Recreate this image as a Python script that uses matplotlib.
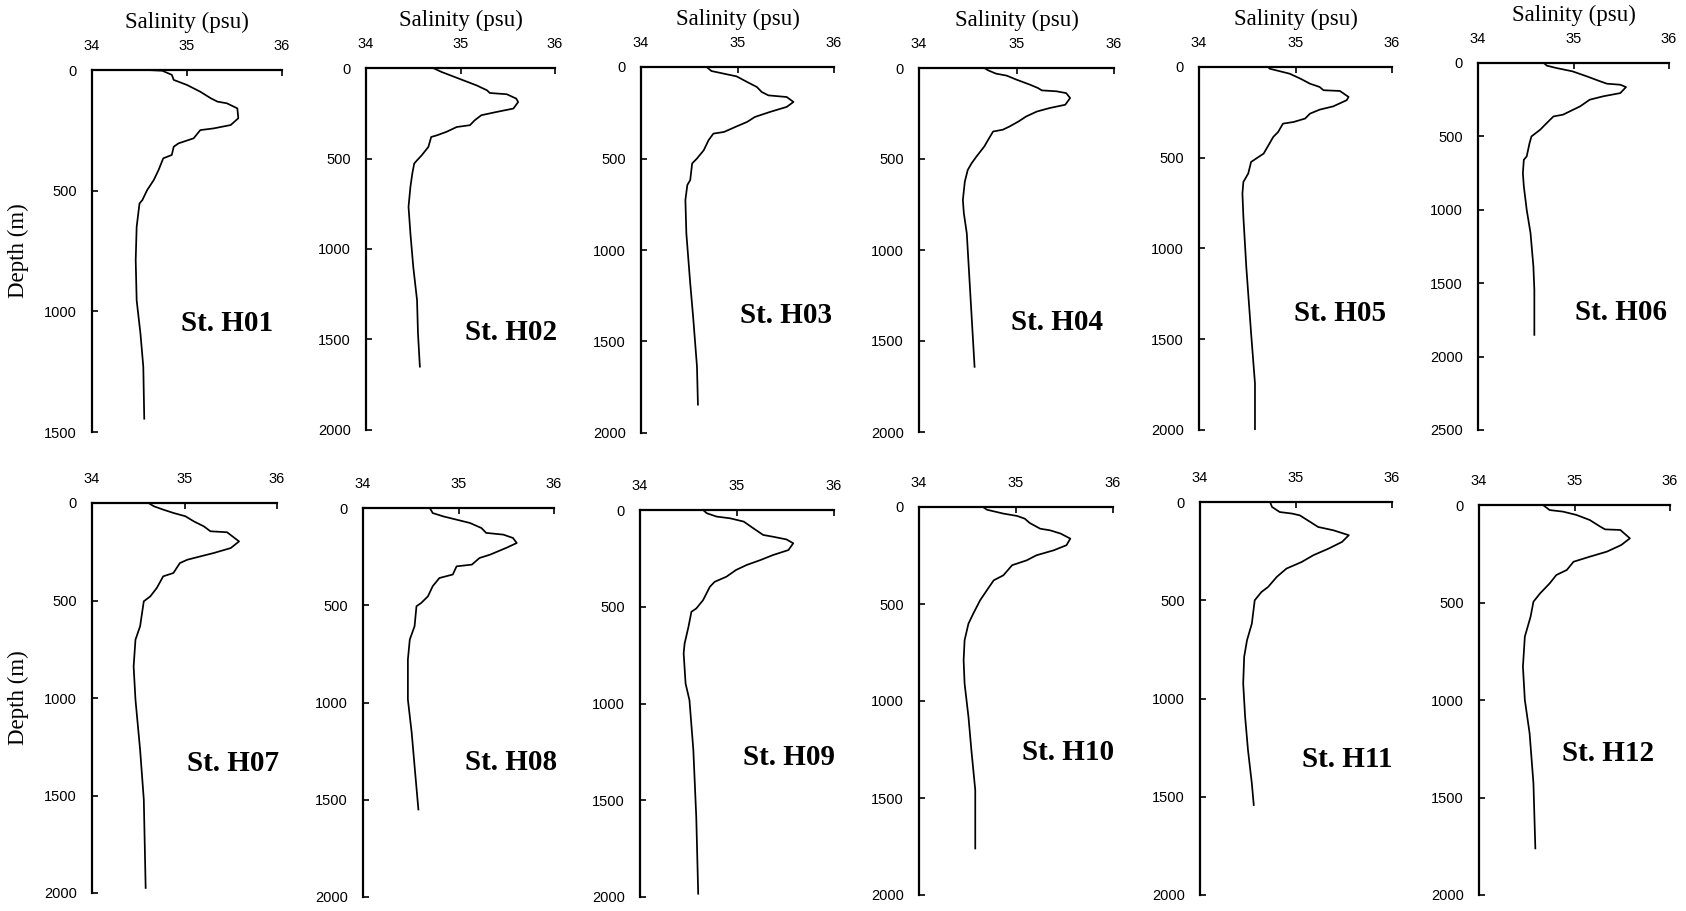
import matplotlib.pyplot as plt

# salinity (psu) / depth (m) profiles
h01_sal = [34.58, 34.74, 34.84, 34.86, 35.00, 35.14, 35.25, 35.32, 35.42, 35.53, 35.54, 35.46, 35.28, 35.14,
           35.07, 34.91, 34.86, 34.84, 34.75, 34.70, 34.65, 34.58, 34.53, 34.50, 34.47, 34.46, 34.47, 34.51,
           34.54, 34.55]
h01_depth = [0, 3, 20, 41, 62, 90, 117, 131, 138, 159, 200, 228, 242, 249, 283, 304, 318, 352, 366, 415, 456,
             498, 539, 553, 650, 788, 954, 1092, 1230, 1445]

h02_sal = [34.71, 34.80, 34.92, 35.03, 35.17, 35.28, 35.31, 35.49, 35.59, 35.61, 35.56, 35.38, 35.22, 35.15,
           35.10, 34.96, 34.85, 34.75, 34.69, 34.66, 34.59, 34.54, 34.51, 34.49, 34.47, 34.45, 34.47, 34.50,
           34.54, 34.55, 34.57]
h02_depth = [0, 22, 46, 68, 96, 123, 138, 145, 169, 188, 224, 243, 261, 289, 316, 326, 353, 372, 381, 436, 482,
             510, 528, 583, 657, 767, 914, 1098, 1282, 1466, 1650]

h03_sal = [34.68, 34.73, 34.89, 34.99, 35.10, 35.20, 35.25, 35.32, 35.51, 35.58, 35.51, 35.34, 35.18, 35.10,
           34.98, 34.86, 34.75, 34.70, 34.65, 34.58, 34.53, 34.51, 34.48, 34.46, 34.47, 34.51, 34.54, 34.58,
           34.59]
h03_depth = [0, 22, 40, 51, 82, 109, 136, 155, 164, 191, 218, 245, 273, 300, 327, 355, 364, 400, 455, 500, 527,
             618, 645, 727, 909, 1182, 1364, 1636, 1845]

h04_sal = [34.67, 34.71, 34.79, 34.90, 35.00, 35.14, 35.22, 35.26, 35.41, 35.51, 35.55, 35.50, 35.34, 35.21,
           35.10, 35.02, 34.93, 34.86, 34.76, 34.71, 34.67, 34.59, 34.54, 34.50, 34.47, 34.45, 34.46, 34.49,
           34.52, 34.55, 34.57]
h04_depth = [0, 13, 31, 42, 64, 92, 110, 123, 128, 138, 165, 202, 220, 239, 266, 294, 321, 339, 349, 394, 431,
             486, 523, 560, 624, 725, 798, 908, 1183, 1459, 1642]

h05_sal = [34.72, 34.73, 34.94, 35.05, 35.15, 35.25, 35.29, 35.46, 35.55, 35.53, 35.39, 35.25, 35.15, 35.10,
           34.98, 34.87, 34.82, 34.77, 34.72, 34.67, 34.54, 34.51, 34.46, 34.45, 34.46, 34.49, 34.54, 34.58,
           34.58]
h05_depth = [0, 9, 37, 64, 92, 110, 128, 132, 165, 183, 217, 235, 257, 284, 303, 312, 358, 385, 431, 477, 523,
             587, 633, 697, 826, 1101, 1468, 1743, 1995]

h06_sal = [34.69, 34.72, 34.82, 34.99, 35.14, 35.28, 35.35, 35.49, 35.55, 35.49, 35.31, 35.17, 35.07, 34.89,
           34.79, 34.72, 34.65, 34.56, 34.54, 34.51, 34.48, 34.47, 34.48, 34.51, 34.55, 34.58, 34.59, 34.59]
h06_depth = [0, 18, 34, 57, 91, 125, 141, 148, 164, 205, 227, 250, 295, 352, 364, 409, 455, 500, 545, 636, 659,
             750, 841, 1000, 1159, 1386, 1545, 1852]

h07_sal = [34.61, 34.67, 34.77, 34.88, 35.01, 35.10, 35.21, 35.28, 35.46, 35.59, 35.50, 35.32, 35.17, 35.03,
           34.95, 34.88, 34.77, 34.70, 34.63, 34.56, 34.52, 34.47, 34.45, 34.47, 34.52, 34.56, 34.58]
h07_depth = [0, 17, 34, 51, 68, 94, 120, 145, 150, 197, 231, 256, 274, 291, 308, 359, 376, 436, 479, 504, 632,
             701, 838, 1009, 1265, 1521, 1974]

h08_sal = [34.70, 34.73, 34.84, 34.98, 35.12, 35.24, 35.29, 35.47, 35.57, 35.61, 35.50, 35.33, 35.22, 35.14,
           34.98, 34.94, 34.80, 34.73, 34.68, 34.61, 34.56, 34.54, 34.49, 34.47, 34.47, 34.51, 34.54, 34.58]
h08_depth = [0, 26, 43, 60, 77, 103, 128, 137, 154, 180, 205, 240, 257, 291, 300, 342, 360, 402, 454, 488, 505,
             608, 676, 779, 985, 1156, 1327, 1550]

h09_sal = [34.65, 34.69, 34.79, 34.93, 35.07, 35.17, 35.27, 35.37, 35.51, 35.58, 35.53, 35.37, 35.24, 35.10,
           34.99, 34.89, 34.77, 34.72, 34.65, 34.58, 34.53, 34.50, 34.46, 34.45, 34.47, 34.51, 34.55, 34.58,
           34.60]
h09_depth = [0, 17, 34, 43, 60, 95, 129, 138, 152, 172, 207, 233, 259, 284, 310, 345, 371, 397, 466, 509, 526,
             603, 690, 741, 897, 983, 1241, 1586, 1983]

h10_sal = [34.66, 34.70, 34.87, 35.01, 35.09, 35.14, 35.25, 35.35, 35.46, 35.56, 35.52, 35.39, 35.21, 35.11,
           34.96, 34.87, 34.77, 34.70, 34.63, 34.56, 34.51, 34.47, 34.46, 34.47, 34.51, 34.54, 34.58, 34.58]
h10_depth = [0, 14, 34, 46, 60, 82, 112, 120, 137, 163, 197, 223, 249, 275, 300, 352, 378, 429, 481, 549, 601,
             687, 790, 910, 1082, 1253, 1459, 1760]

h11_sal = [34.73, 34.75, 34.83, 34.96, 35.04, 35.15, 35.23, 35.39, 35.55, 35.48, 35.34, 35.18, 35.06, 34.90,
           34.80, 34.71, 34.64, 34.57, 34.54, 34.49, 34.46, 34.45, 34.47, 34.50, 34.54, 34.56]
h11_depth = [0, 25, 51, 59, 68, 102, 127, 144, 169, 203, 237, 271, 305, 339, 381, 432, 458, 500, 619, 703, 788,
             924, 1093, 1263, 1432, 1542]

h12_sal = [34.67, 34.74, 34.88, 35.02, 35.16, 35.27, 35.32, 35.48, 35.58, 35.49, 35.34, 35.16, 34.99, 34.92,
           34.81, 34.74, 34.64, 34.57, 34.54, 34.48, 34.46, 34.48, 34.53, 34.57, 34.59]
h12_depth = [0, 26, 34, 51, 77, 111, 125, 128, 171, 205, 239, 265, 291, 333, 359, 402, 453, 496, 573, 675, 829,
             1000, 1171, 1427, 1761]

stations = ["St. H01", "St. H02", "St. H03", "St. H04", "St. H05", "St. H06",
            "St. H07", "St. H08", "St. H09", "St. H10", "St. H11", "St. H12"]
salinity = [h01_sal, h02_sal, h03_sal, h04_sal, h05_sal, h06_sal,
            h07_sal, h08_sal, h09_sal, h10_sal, h11_sal, h12_sal]
depth = [h01_depth, h02_depth, h03_depth, h04_depth, h05_depth, h06_depth,
         h07_depth, h08_depth, h09_depth, h10_depth, h11_depth, h12_depth]
max_depth = [1500, 2000, 2000, 2000, 2000, 2500,
             2000, 2000, 2000, 2000, 2000, 2000]
sal_ticks = [34, 35, 36]

# panel boxes in pixels: left, top, right, bottom
W, H = 1686, 911
boxes = [(92, 70, 282, 432), (366, 68, 555, 430), (641, 67, 834, 433),
         (919, 68, 1114, 432), (1199, 67, 1392, 430), (1478, 63, 1669, 430),
         (92, 503, 277, 893), (363, 508, 554, 897), (640, 510, 834, 897),
         (919, 507, 1113, 895), (1200, 502, 1392, 895), (1479, 505, 1670, 895)]
label_pos = [(0.71, 0.30), (0.77, 0.27), (0.75, 0.32), (0.71, 0.30), (0.73, 0.32), (0.75, 0.32),
             (0.76, 0.333), (0.775, 0.347), (0.77, 0.36), (0.77, 0.366), (0.765, 0.344), (0.675, 0.364)]

serif = "Liberation Serif"
sans = "Liberation Sans"

fig = plt.figure(figsize=(W / 100, H / 100), dpi=100)

for i, name in enumerate(stations):
    l, t, r, b = boxes[i]
    ax = fig.add_axes([l / W, 1 - b / H, (r - l) / W, (b - t) / H])
    ax.plot(salinity[i], depth[i], color="black", lw=1.25)
    ax.set_xlim(34, 36)
    ax.set_ylim(max_depth[i], 0)
    ax.set_xticks(sal_ticks)
    ax.set_yticks(range(0, max_depth[i] + 1, 500))
    ax.xaxis.tick_top()
    ax.spines["bottom"].set_visible(False)
    ax.spines["right"].set_visible(False)
    for s in ["top", "left"]:
        ax.spines[s].set_linewidth(1.6)
    ax.tick_params(axis="x", direction="in", length=4, width=1.2, pad=12, labelsize=10.5)
    ax.tick_params(axis="y", direction="in", length=4, width=1.2, pad=11, labelsize=10.5)
    for lab in ax.get_xticklabels() + ax.get_yticklabels():
        lab.set_fontfamily(sans)
    ax.text(label_pos[i][0], label_pos[i][1], name, transform=ax.transAxes,
            ha="center", va="center", fontsize=21, fontweight="bold", fontfamily=serif)
    if i < 6:
        ax.set_title("Salinity (psu)", fontsize=16.5, fontfamily=serif, pad=30)
    if i % 6 == 0:
        ax.set_ylabel("Depth (m)", fontsize=16.5, fontfamily=serif, labelpad=11)

fig.savefig("out.png", dpi=100, facecolor="white")
